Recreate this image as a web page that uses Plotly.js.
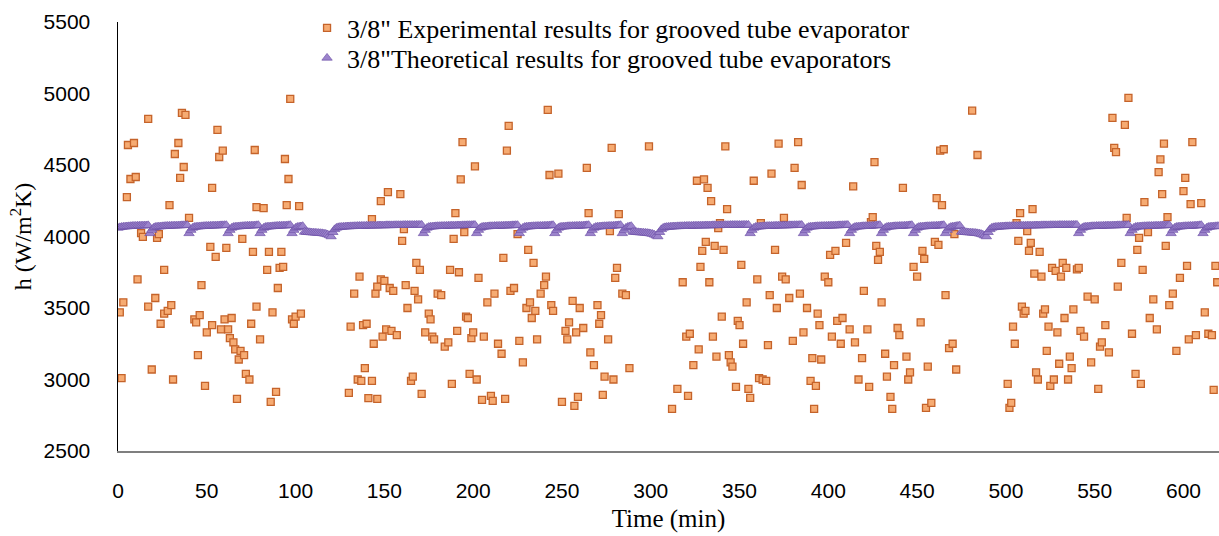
<!DOCTYPE html>
<html>
<head>
<meta charset="utf-8">
<script src="https://cdn.plot.ly/plotly-3.0.1.min.js"></script>
<style>html,body{margin:0;padding:0;background:#fff;}#chart{width:1219px;height:536px;}</style>
</head>
<body>
<div id="chart"></div>
<script>
// Experimental results (time in min, h in W/m2K)
const expTime = [
1,2,3,5,5.6,9,7,10,11,13,14,17,17,19,21,22,23,24,26,26,28,29,30,31,32,34,35,36,37,38,40,43,44,45,46,47,49,50,52,53,53,55,56,57,59,58,60,61,62,63,64,65,66,67,68,69,70,71,72,74,75,76,77,78,78,80,82,84,85,86,87,89,90,91,92,93,94,95,96,97,98,99,100,102,103,
130,131,133,135,136,137,138,139,140,141,143,143,144,145,146,146,148,148,149,150,151,152,153,154,155,157,159,160,161,162,163,165,166,167,168,169,170,171,173,175,176,177,178,180,182,184,186,187,188,189,190,191,192,193,194,195,196,197,198,199,200,201,202,203,205,206,208,210,211,212,214,216,217,218,219,220,221,223,225,226,228,230,231,232,233,234,235,236,238,240,241,242,243,244,245,
248,250,252,253,254,256,257,258,259,260,262,264,265,266,268,270,271,272,273,274,276,277,278,279,280,281,282,284,286,288,299,
312,315,318,320,321,322,324,326,327,328,329,330,331,332,333,334,335,336,337,338,339,340,341,342,343,344,345,346,348,349,350,351,352,354,355,356,358,360,361,362,363,365,366,367,368,370,371,372,374,375,376,378,380,381,383,384,385,386,388,390,391,392,393,394,395,396,398,400,401,402,404,405,407,408,410,412,414,415,417,419,420,422,423,424,425,426,427,428,429,430,432,433,435,436,437,439,440,442,444,445,446,448,450,452,453,454,455,456,458,460,461,462,463,464,465,466,468,470,471,472,481,484,
501,502,503,504,505,506,507,508,509,510,511,512,513,514,515,516,517,518,519,520,521,522,523,524,525,526,527,528,529,530,531,532,533,534,535,536,537,538,540,541,542,544,546,548,550,552,553,554,556,558,560,561,562,563,565,567,568,569,571,573,574,575,576,577,578,580,581,583,585,586,587,588,589,590,591,592,594,596,598,600,601,602,603,604,605,607,610,612,614,616,617,618,619
];
const expH = [
3470,3010,3540,4276,4640,4654,4402,4416,3700,4024,3997,4822,3510,3070,3570,3990,4017,3390,3766,3460,3480,4220,3520,3000,4577,4654,4410,4864,4486,4850,4130,3420,3400,3170,3450,3660,2955,3330,3927,4340,3380,3857,4745,4556,4600,3350,3420,3920,3350,3290,3430,3260,3210,2864,3140,3200,3983,3170,3040,3000,3390,3892,4605,4206,3510,3280,4199,3766,3892,2843,3470,2913,3640,3780,3892,3787,4542,4220,4402,4962,3420,3390,3440,4213,3460,
2906,3370,3600,3000,3720,2990,3380,3080,3390,2870,4122,2990,3250,3600,2864,3650,4248,3700,3300,3690,3350,4311,3640,3340,3620,3310,4297,3969,4052,3660,3500,2990,3020,3620,3815,3560,3766,2899,3330,3460,3420,3300,3280,3600,3590,3230,3260,3766,2969,3983,4164,3340,3750,4400,4660,4031,3440,3430,3040,3290,3330,4490,3000,3710,2857,3300,3540,2885,2850,3600,3250,3180,3850,2864,4600,4773,3620,3640,4017,3270,3120,3500,3906,3540,3430,3815,3480,3280,3600,3660,3720,4885,4430,3520,3480,
4440,2843,3340,3280,3400,3550,2815,3330,2878,3500,3360,4480,4164,3190,3100,3520,3390,3450,2892,3020,3280,4038,4620,3000,3710,3780,4157,3600,3590,3080,4630,
2794,2934,3680,3300,2885,3320,3100,4390,3210,3787,3899,4400,3962,4340,3680,4248,3300,3934,3160,4059,4094,3440,3906,4630,4192,3170,3120,3090,2948,3410,3380,3801,3250,3540,2934,2871,4390,3700,3010,4094,3000,2990,3240,3590,4440,3906,3500,4650,3720,4130,3700,3570,3270,4480,4660,3600,4360,3330,3500,2990,3150,2794,2955,3460,3380,3140,3720,3680,3871,3300,3899,3410,3250,3430,3955,3350,4350,3260,3000,3150,3620,3350,2948,4101,4136,4520,3934,3836,3892,3540,3180,3020,2878,2794,3100,3360,3310,4340,3160,3000,3050,3787,3720,3400,3899,3843,2801,3090,2836,3962,4269,3941,4600,4220,4610,3590,3220,3250,4017,3070,4880,4570,
2969,2801,2836,3370,3250,4094,3969,4164,3510,3460,3480,4038,3900,3955,4192,3740,3050,3000,3892,3720,3460,3490,3200,3370,2955,3780,3000,3760,3330,3110,3720,3815,3430,3780,3000,3160,3080,3490,3770,3780,3340,3300,3580,3120,3560,2934,3230,3260,3380,3190,4830,4620,4590,3650,3815,4780,4130,4970,3320,3040,3906,3990,2969,3766,4241,4031,3430,3560,3350,4450,4540,4297,4650,3934,4136,3520,3600,3200,3710,4318,4410,3794,3280,4227,4660,3310,4234,3470,3320,3310,2927,3794,3680
];

// Theoretical results: one reading per minute, 0..620 min
const theoryTime = [
0,1,2,3,4,5,6,7,8,9,10,11,12,13,14,15,16,17,18,19,20,21,22,23,24,25,26,27,28,29,
30,31,32,33,34,35,36,37,38,39,40,41,42,43,44,45,46,47,48,49,50,51,52,53,54,55,56,57,58,59,
60,61,62,63,64,65,66,67,68,69,70,71,72,73,74,75,76,77,78,79,80,81,82,83,84,85,86,87,88,89,
90,91,92,93,94,95,96,97,98,99,100,101,102,103,104,105,106,107,108,109,110,111,112,113,114,115,116,117,118,119,
120,121,122,123,124,125,126,127,128,129,130,131,132,133,134,135,136,137,138,139,140,141,142,143,144,145,146,147,148,149,
150,151,152,153,154,155,156,157,158,159,160,161,162,163,164,165,166,167,168,169,170,171,172,173,174,175,176,177,178,179,
180,181,182,183,184,185,186,187,188,189,190,191,192,193,194,195,196,197,198,199,200,201,202,203,204,205,206,207,208,209,
210,211,212,213,214,215,216,217,218,219,220,221,222,223,224,225,226,227,228,229,230,231,232,233,234,235,236,237,238,239,
240,241,242,243,244,245,246,247,248,249,250,251,252,253,254,255,256,257,258,259,260,261,262,263,264,265,266,267,268,269,
270,271,272,273,274,275,276,277,278,279,280,281,282,283,284,285,286,287,288,289,290,291,292,293,294,295,296,297,298,299,
300,301,302,303,304,305,306,307,308,309,310,311,312,313,314,315,316,317,318,319,320,321,322,323,324,325,326,327,328,329,
330,331,332,333,334,335,336,337,338,339,340,341,342,343,344,345,346,347,348,349,350,351,352,353,354,355,356,357,358,359,
360,361,362,363,364,365,366,367,368,369,370,371,372,373,374,375,376,377,378,379,380,381,382,383,384,385,386,387,388,389,
390,391,392,393,394,395,396,397,398,399,400,401,402,403,404,405,406,407,408,409,410,411,412,413,414,415,416,417,418,419,
420,421,422,423,424,425,426,427,428,429,430,431,432,433,434,435,436,437,438,439,440,441,442,443,444,445,446,447,448,449,
450,451,452,453,454,455,456,457,458,459,460,461,462,463,464,465,466,467,468,469,470,471,472,473,474,475,476,477,478,479,
480,481,482,483,484,485,486,487,488,489,490,491,492,493,494,495,496,497,498,499,500,501,502,503,504,505,506,507,508,509,
510,511,512,513,514,515,516,517,518,519,520,521,522,523,524,525,526,527,528,529,530,531,532,533,534,535,536,537,538,539,
540,541,542,543,544,545,546,547,548,549,550,551,552,553,554,555,556,557,558,559,560,561,562,563,564,565,566,567,568,569,
570,571,572,573,574,575,576,577,578,579,580,581,582,583,584,585,586,587,588,589,590,591,592,593,594,595,596,597,598,599,
600,601,602,603,604,605,606,607,608,609,610,611,612,613,614,615,616,617,618,619,620
];
// plateau readings between the periodic dips
const plateauA = [4060,4064,4066,4068,4069,4070,4071,4072,4073,4074,4074,4075,4075,4076,4076,4077,4077,4078];
const plateau21 = [4045,4060,4066,4068,4069,4070,4071,4072,4073,4074,4074,4075,4075,4076,4076,4077,4077,4078,4078,4079,4079];
const plateau17a = [4045,4060,4066,4068,4069,4070,4071,4072,4073,4074,4075,4075,4076,4076,4077,4078,4079];
const plateau6 = [4045,4060,4066,4068,4070,4072];
const plateau51 = [4030,4050,4060,4064,4066,4067,4068,4069,4070,4070,4071,4071,4072,4072,4073,4073,4074,4074,4074,4075,4075,4075,4076,4076,4076,4076,4077,4077,4077,4077,4078,4078,4078,4078,4078,4079,4079,4079,4079,4079,4080,4080,4080,4080,4080,4080,4080,4081,4081,4081,4081];
const plateau29 = [4045,4060,4066,4068,4069,4070,4071,4072,4072,4073,4073,4074,4074,4075,4075,4076,4076,4076,4077,4077,4077,4078,4078,4078,4079,4079,4079,4080,4080];
const plateau28 = [4045,4060,4066,4068,4069,4070,4071,4072,4072,4073,4073,4074,4074,4075,4075,4076,4076,4076,4077,4077,4077,4078,4078,4078,4079,4079,4079,4080];
const plateau25 = [4045,4060,4066,4068,4069,4070,4071,4072,4072,4073,4073,4074,4074,4075,4075,4076,4076,4077,4077,4078,4078,4079,4079,4080,4080];
const plateau23 = [4045,4060,4066,4068,4069,4070,4071,4072,4072,4073,4073,4074,4074,4075,4075,4076,4076,4077,4077,4078,4078,4079,4079];
const plateau22 = [4045,4060,4066,4068,4069,4070,4071,4072,4072,4073,4073,4074,4074,4075,4075,4076,4076,4077,4077,4078,4078,4079];
const plateau19 = [4045,4060,4066,4068,4069,4070,4071,4072,4072,4073,4073,4074,4074,4075,4075,4076,4077,4078,4079];
const plateau17 = [4045,4060,4066,4068,4069,4070,4071,4072,4072,4073,4074,4074,4075,4076,4077,4078,4079];
const plateau5 = [4045,4060,4066,4070,4072];
const plateau8 = [4045,4060,4066,4068,4070,4072,4074,4076];
const plateau9 = [4045,4060,4066,4068,4069,4070,4071,4072,4072];
const lowRun16 = [4032,4031,4030,4029,4028,4027,4026,4025,4024,4023,4022,4020,4018,4014,4008,4000];
const lowRun15 = [4032,4031,4030,4029,4028,4027,4026,4025,4024,4022,4020,4017,4012,4006,4000];
const dip = [4022];

const theoryH = [].concat(
  plateauA, dip, plateau21, dip, plateau21, dip, plateau17a, dip, plateau17a, dip, plateau6, lowRun16,
  plateau51, dip, plateau29, dip, plateau23, dip, plateau19, dip, plateau19, dip, plateau17, dip, plateau5, lowRun15,
  plateau51, dip, plateau29, dip, plateau25, dip, plateau17, dip, plateau17, dip, plateau17, dip, plateau8, lowRun15,
  plateau51, dip, plateau28, dip, plateau22, dip, plateau17, dip, plateau9
);

const xTicks = [0,50,100,150,200,250,300,350,400,450,500,550,600];
const yTicks = [2500,3000,3500,4000,4500,5000,5500];
const seriesNames = ['3/8" Experimental results for grooved tube evaporator', '3/8"Theoretical results for grooved tube evaporators'];

const traces = [
  {
    x: expTime, y: expH, type: 'scatter', mode: 'markers', name: seriesNames[0], legend: 'legend',
    marker: {symbol: 'square', size: 7, color: '#F6AB72', line: {color: '#C5632A', width: 1.3}}
  },
  {
    x: theoryTime, y: theoryH, type: 'scatter', mode: 'markers', name: seriesNames[1], legend: 'legend2',
    marker: {symbol: 'triangle-up', size: 9, color: '#9C84CC', line: {color: '#6F52A8', width: 0.7}}
  }
];

const legendFont = {family: 'Liberation Serif, serif', size: 26, color: '#000'};
const layout = {
  width: 1219, height: 536,
  margin: {l: 118, r: 0, t: 22, b: 85, pad: 0, autoexpand: false},
  paper_bgcolor: '#ffffff', plot_bgcolor: '#ffffff',
  showlegend: true,
  legend: {x: 0.1717, y: 1 - 6/429, xanchor: 'left', yanchor: 'middle', font: legendFont, bgcolor: 'rgba(0,0,0,0)'},
  legend2: {x: 0.1717, y: 1 - 36/429, xanchor: 'left', yanchor: 'middle', font: legendFont, bgcolor: 'rgba(0,0,0,0)'},
  xaxis: {
    range: [0, 620], tickvals: xTicks, ticktext: xTicks.map(String),
    showgrid: false, zeroline: false, showline: true, linecolor: '#7f7f7f', linewidth: 1.5,
    ticks: 'outside', ticklen: 20, tickcolor: 'rgba(0,0,0,0)',
    tickfont: {family: 'Liberation Sans, Arial, sans-serif', size: 21, color: '#000'},
    title: {text: 'Time (min)', font: {family: 'Liberation Serif, serif', size: 25, color: '#000'}, standoff: 9}
  },
  yaxis: {
    range: [2500, 5500], tickvals: yTicks, ticktext: yTicks.map(String),
    showgrid: false, zeroline: false, showline: true, linecolor: '#000', linewidth: 1.5,
    ticks: 'outside', ticklen: 22, tickcolor: 'rgba(0,0,0,0)',
    tickfont: {family: 'Liberation Sans, Arial, sans-serif', size: 21, color: '#000'},
    title: {text: 'h (W/m<sup>2</sup>K)', font: {family: 'Liberation Serif, serif', size: 24, color: '#000'}, standoff: 5}
  }
};

Plotly.newPlot('chart', traces, layout, {staticPlot: true, displayModeBar: false});
</script>
</body>
</html>
